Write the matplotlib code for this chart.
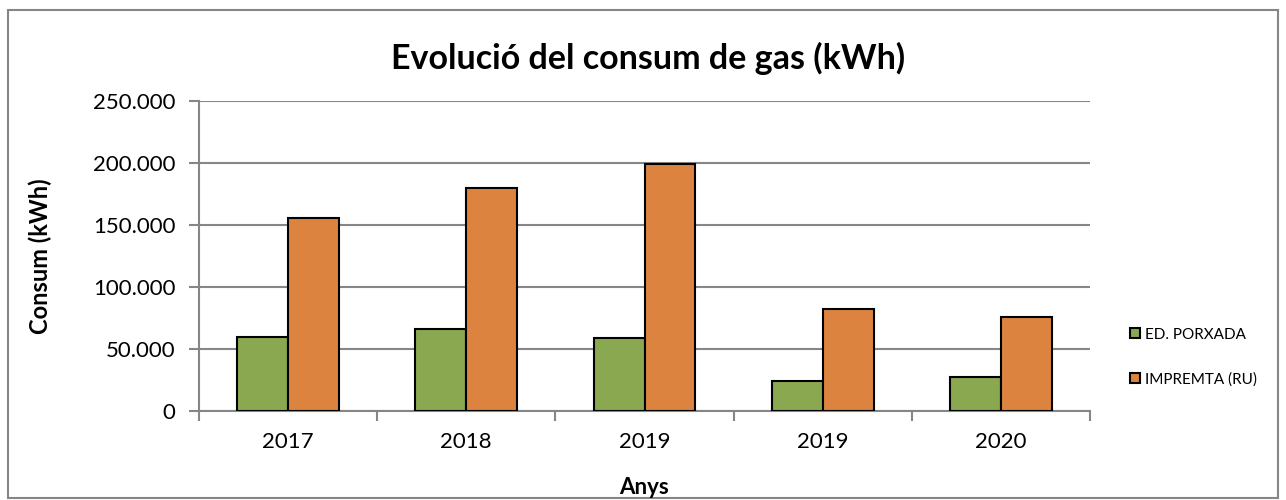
import matplotlib
matplotlib.use("Agg")
import matplotlib.pyplot as plt
import numpy as np
from matplotlib.ticker import FuncFormatter, FixedLocator
from matplotlib.patches import Rectangle

categories = ["2017", "2018", "2019", "2019", "2020"]
porxada = [60000, 66500, 58500, 24000, 27500]
impremta = [155500, 180000, 199000, 82500, 76000]
series_names = ["ED. PORXADA", "IMPREMTA (RU)"]
colors = ["#8AA84F", "#DC843F"]

plt.rcParams['font.family'] = ['Lato', 'DejaVu Sans']

fig = plt.figure(figsize=(12.86, 5.0), dpi=100)
ax = fig.add_axes([199/1286, 1-411/500, (1090-199)/1286, (411-101)/500])

x = np.arange(len(categories))
w = 0.286
ax.bar(x - w/2, porxada, w, color=colors[0], edgecolor="black", linewidth=1.5, label=series_names[0], zorder=3)
ax.bar(x + w/2, impremta, w, color=colors[1], edgecolor="black", linewidth=1.5, label=series_names[1], zorder=3)

ax.set_xlim(-0.5, len(categories) - 0.5)
ax.set_ylim(0, 250000)
ax.set_yticks(np.arange(0, 250001, 50000))
ax.yaxis.set_major_formatter(FuncFormatter(lambda v, p: f"{int(v):,}".replace(",", ".")))
ax.set_xticks(x)
ax.set_xticklabels(categories)
ax.xaxis.set_minor_locator(FixedLocator(np.arange(-0.5, len(categories), 1.0)))
ax.tick_params(axis="x", which="major", length=0, labelsize=16, pad=15)
ax.tick_params(axis="x", which="minor", length=7, width=1.5, color="#868686")
ax.tick_params(axis="y", length=7, width=1.5, color="#868686", labelsize=16, pad=10)

ax.grid(axis="y", color="#868686", linewidth=1.5, zorder=0)
for s in ["top", "right"]:
    ax.spines[s].set_visible(False)
for s in ["left", "bottom"]:
    ax.spines[s].set_color("#868686")
    ax.spines[s].set_linewidth(1.5)

fig.text(648/1286, 1-58/500, "Evolució del consum de gas (kWh)", ha="center", va="center",
         fontsize=24.5, fontweight="bold")
fig.text(40/1286, 1-256/500, "Consum (kWh)", rotation=90, ha="center", va="center",
         fontsize=17, fontweight="bold")
fig.text(644/1286, 1-488/500, "Anys", ha="center", va="center", fontsize=16, fontweight="bold")

leg = ax.legend(loc="center left", bbox_to_anchor=(1.03, 0.174), frameon=False, fontsize=11,
                handlelength=0.65, handleheight=0.65, handletextpad=0.3, labelspacing=2.0)
for h in leg.legend_handles:
    h.set_linewidth(1.5)

fig.patches.append(Rectangle((8/1286, 2/500), 1-16/1286, 1-12/500, transform=fig.transFigure,
                             fill=False, edgecolor="#868686", linewidth=1.5))

fig.savefig("out.png", dpi=100)
